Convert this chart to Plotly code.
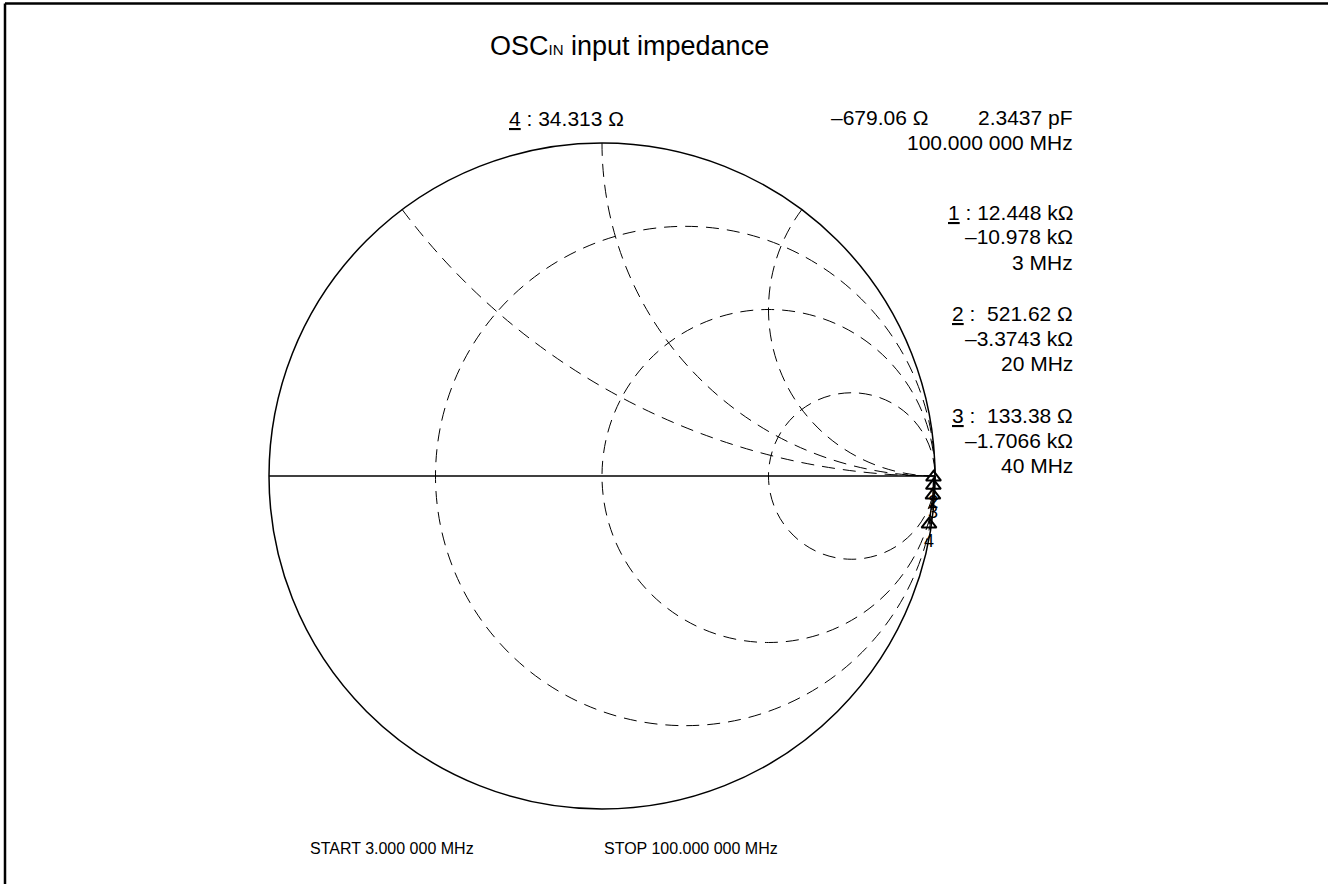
import plotly.graph_objects as go

# ---- data ----
Z0 = 50.0
marker_labels = ["1", "2", "3", "4"]
marker_freq_mhz = [3, 20, 40, 100]
marker_R_ohm = [12448.0, 521.62, 133.38, 34.313]
marker_X_ohm = [-10978.0, -3374.3, -1706.6, -679.06]
marker_R_text = ["12.448 k\u03a9", "\u00a0521.62 \u03a9", "\u00a0133.38 \u03a9", "34.313 \u03a9"]
marker_X_text = ["\u201310.978 k\u03a9", "\u20133.3743 k\u03a9", "\u20131.7066 k\u03a9", "\u2013679.06 \u03a9"]
marker4_cap_text = "2.3437 pF"
start_text = "START 3.000 000 MHz"
stop_text = "STOP 100.000 000 MHz"
active_freq_text = "100.000 000 MHz"

real_grid = [1 / 3, 1, 3]
imag_grid = [0.5, 1, 2]

W, H = 1328, 884
FONT = "Liberation Sans, Arial, sans-serif"

def px(x):
    return x / W

def py(y):
    return 1 - y / H

real_norm = [r / Z0 for r in marker_R_ohm]
imag_norm = [x / Z0 for x in marker_X_ohm]

fig = go.Figure()
fig.add_trace(go.Scattersmith(
    real=real_norm, imag=imag_norm,
    mode="lines+markers+text",
    text=marker_labels, textposition="bottom center",
    textfont=dict(family=FONT, size=18, color=["black"] * len(marker_labels)),
    line=dict(color="black", width=1.5),
    marker=dict(symbol="triangle-up-open", size=13, color="black",
                line=dict(width=2, color="black")),
    hoverinfo="skip", showlegend=False,
))

cx, cy, R = 602, 476, 333
fig.update_layout(
    width=W, height=H,
    margin=dict(l=0, r=0, t=0, b=0),
    paper_bgcolor="white",
    showlegend=False,
    hovermode=False,
    smith=dict(
        domain=dict(x=[px(cx - R), px(cx + R)], y=[py(cy + R), py(cy - R)]),
        bgcolor="white",
        realaxis=dict(tickvals=real_grid, showticklabels=False, ticks="",
                      showgrid=True, gridcolor="black", gridwidth=1.3,
                      griddash="13px,8px", showline=True, linecolor="black",
                      linewidth=1.5),
        imaginaryaxis=dict(tickvals=imag_grid, showticklabels=False, ticks="",
                           showgrid=True, gridcolor="black", gridwidth=1.3,
                           griddash="13px,8px", showline=True,
                           linecolor="black", linewidth=1.5),
    ),
)

anns = []

def ann(text, x, y, anchor="left", size=21):
    anns.append(dict(text=text, x=px(x), y=py(y), xref="paper", yref="paper",
                     xanchor=anchor, yanchor="middle", showarrow=False,
                     font=dict(family=FONT, size=size, color="black")))

ann("OSC<span style='font-size:15px'>IN</span> input impedance", 488, 46, size=27)
ann("<u>" + marker_labels[3] + "</u> : " + marker_R_text[3], 507, 119)
ann(marker_X_text[3], 930, 118, anchor="right")
ann(marker4_cap_text, 1075, 118, anchor="right")
ann(active_freq_text, 1075, 143, anchor="right")

rows = [212, 313, 415]
for i in range(3):
    y0 = rows[i]
    ann("<u>" + marker_labels[i] + "</u> : " + marker_R_text[i], 1075, y0, anchor="right")
    ann(marker_X_text[i], 1075, y0 + 25, anchor="right")
    ann("%d MHz" % marker_freq_mhz[i], 1075, y0 + 50, anchor="right")

ann(start_text, 308, 848, size=16)
ann(stop_text, 602, 848, size=16)

fig.update_layout(annotations=anns)

fig.add_shape(type="line", xref="paper", yref="paper",
              x0=px(5), x1=1.0, y0=py(3.5), y1=py(3.5),
              line=dict(color="black", width=2.5))
fig.add_shape(type="line", xref="paper", yref="paper",
              x0=px(5), x1=px(5), y0=py(3.5), y1=0.0,
              line=dict(color="black", width=2.5))

fig.write_html("out.html", config={"displayModeBar": False},
               post_script="document.body.style.margin='0px';")
